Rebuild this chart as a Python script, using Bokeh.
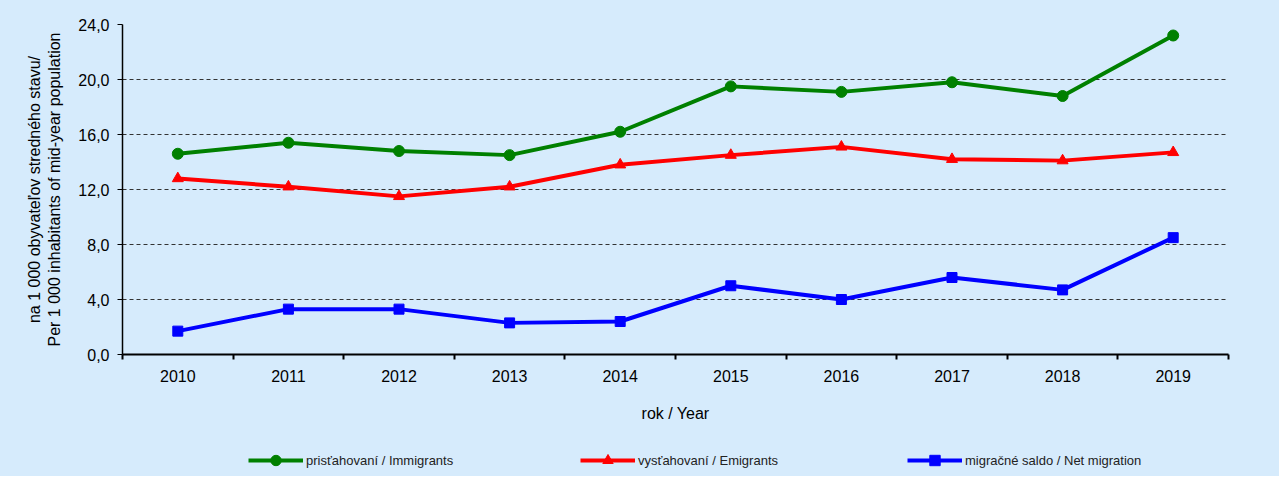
from bokeh.plotting import figure
from bokeh.models import FixedTicker, Range1d, Legend, LegendItem
from bokeh.layouts import column
from bokeh.embed import file_html
from bokeh.resources import INLINE

years = [2010, 2011, 2012, 2013, 2014, 2015, 2016, 2017, 2018, 2019]
immigrants = [14.6, 15.4, 14.8, 14.5, 16.2, 19.5, 19.1, 19.8, 18.8, 23.2]
emigrants = [12.8, 12.2, 11.5, 12.2, 13.8, 14.5, 15.1, 14.2, 14.1, 14.7]
net_migration = [1.7, 3.3, 3.3, 2.3, 2.4, 5.0, 4.0, 5.6, 4.7, 8.5]
y_ticks = [0, 4, 8, 12, 16, 20, 24]
y_tick_labels = ["0,0", "4,0", "8,0", "12,0", "16,0", "20,0", "24,0"]
series_names = ["prisťahovaní / Immigrants", "vysťahovaní / Emigrants", "migračné saldo / Net migration"]

BG = "#D6EBFC"
FONT = "Liberation Sans"
W = 1279

p = figure(width=W, height=440, output_backend="svg", toolbar_location=None,
           x_range=Range1d(years[0] - 0.5, years[-1] + 0.5), y_range=Range1d(0, 24),
           min_border_left=122, min_border_right=51, min_border_top=24, min_border_bottom=86)
p.background_fill_color = BG
p.border_fill_color = BG
p.outline_line_color = None

# grid
p.xgrid.grid_line_color = None
p.ygrid.grid_line_color = "#333333"
p.ygrid.grid_line_dash = "4 3"
p.ygrid.grid_line_width = 1
p.ygrid.ticker = FixedTicker(ticks=y_ticks)

# x axis
xa = p.xaxis[0]
xa.ticker = FixedTicker(ticks=years, minor_ticks=[y - 0.5 for y in years] + [years[-1] + 0.5])
xa.major_tick_line_color = None
xa.major_tick_out = 0
xa.major_tick_in = 0
xa.minor_tick_line_color = "black"
xa.minor_tick_line_width = 2
xa.minor_tick_out = 5
xa.minor_tick_in = 0
xa.axis_line_color = "black"
xa.axis_line_width = 2
xa.major_label_standoff = 10
xa.major_label_text_font = FONT
xa.major_label_text_font_size = "16px"
xa.major_label_text_color = "black"
xa.axis_label = "rok / Year"
xa.axis_label_text_font = FONT
xa.axis_label_text_font_size = "16px"
xa.axis_label_text_font_style = "normal"
xa.axis_label_text_color = "black"
xa.axis_label_standoff = 20

# y axis
ya = p.yaxis[0]
ya.ticker = FixedTicker(ticks=y_ticks)
ya.major_label_overrides = {t: l for t, l in zip(y_ticks, y_tick_labels)}
ya.major_tick_out = 5
ya.major_tick_in = 0
ya.major_tick_line_color = "black"
ya.minor_tick_line_color = None
ya.axis_line_color = "black"
ya.axis_line_width = 1.5
ya.major_label_standoff = 8
ya.major_label_text_font = FONT
ya.major_label_text_font_size = "16px"
ya.major_label_text_color = "black"
ya.axis_label = "na 1 000 obyvateľov stredného stavu/\nPer 1 000 inhabitants of mid-year population"
ya.axis_label_text_font = FONT
ya.axis_label_text_font_size = "16px"
ya.axis_label_text_font_style = "normal"
ya.axis_label_text_color = "black"
ya.axis_label_standoff = 12

specs = [
    (immigrants, "#008000", "circle", 11),
    (emigrants, "#FF0000", "triangle", 11),
    (net_migration, "#0000FF", "square", 10),
]
for vals, col, marker, size in specs:
    p.line(years, vals, line_color=col, line_width=4)
    p.scatter(years, vals, marker=marker, size=size, fill_color=col, line_color=col)

# legend strip below the chart (same series, kept out of its view range)
lp = figure(width=W, height=36, output_backend="svg", toolbar_location=None,
            x_range=Range1d(years[0] - 0.5, years[-1] + 0.5), y_range=Range1d(100, 101),
            x_axis_location=None, y_axis_location=None,
            min_border_left=122, min_border_right=51, min_border_top=0, min_border_bottom=0)
lp.background_fill_color = None
lp.border_fill_color = None
lp.outline_line_color = None
lp.grid.grid_line_color = None

legend_x = [126, 458, 785]
for (vals, col, marker, size), name, lx in zip(specs, series_names, legend_x):
    l = lp.line(years, vals, line_color=col, line_width=4)
    s = lp.scatter(years, vals, marker=marker, size=size, fill_color=col, line_color=col)
    lg = Legend(items=[LegendItem(label=name, renderers=[l, s])],
                location=(lx, 3), orientation="horizontal",
                glyph_width=55, glyph_height=26, label_height=26,
                label_standoff=3, padding=0, margin=0, spacing=0,
                background_fill_alpha=0, border_line_color=None,
                label_text_font=FONT, label_text_font_size="13px",
                label_text_color="#222222")
    lp.add_layout(lg, "center")

layout = column(p, lp, spacing=0, styles={"background-color": BG})
open("out.html", "w").write(file_html(layout, INLINE))
